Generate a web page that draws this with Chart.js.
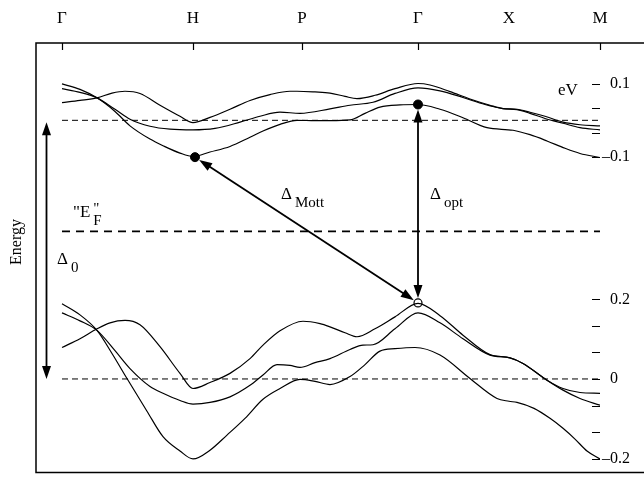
<!DOCTYPE html>
<html>
<head>
<meta charset="utf-8">
<script src="https://cdn.jsdelivr.net/npm/chart.js@4.4.1/dist/chart.umd.min.js"></script>
<style>
  html, body { margin: 0; padding: 0; background: #fff; }
  #wrap { width: 644px; height: 478px; }
</style>
</head>
<body>
<div id="wrap"><canvas id="bands"></canvas></div>
<script>
// symmetry points along the k path
const kLabels = ['Γ', 'H', 'P', 'Γ', 'X', 'M'];
const kPoints = [0, 1.31, 2.40, 3.56, 4.47, 5.38];

// right hand energy ticks (eV)
const upperTicks = [0.1, 0.0667, 0.0333, 0, -0.0333, -0.0667, -0.1];
const lowerTicks = [0.2, 0.1333, 0.0667, 0, -0.0667, -0.1333, -0.2];

// upper (empty) bands
const up1K = [0, 0.18, 0.35, 0.50, 0.63, 0.78, 0.98, 1.18, 1.31, 1.48, 1.68, 1.88, 2.08, 2.28, 2.35, 2.53, 2.68, 2.83, 2.95, 3.13, 3.33, 3.56, 3.68, 3.88, 4.08, 4.28, 4.41, 4.55, 4.68, 4.83, 5.01, 5.18, 5.38];
const up1E = [0.048, 0.054, 0.061, 0.074, 0.079, 0.073, 0.041, 0.011, -0.006, 0.008, 0.030, 0.054, 0.070, 0.079, 0.079, 0.077, 0.074, 0.065, 0.059, 0.068, 0.086, 0.100, 0.096, 0.078, 0.058, 0.041, 0.032, 0.030, 0.022, 0.011, -0.005, -0.012, -0.015];
const up2K = [0, 0.18, 0.35, 0.53, 0.68, 0.88, 1.08, 1.31, 1.53, 1.78, 1.98, 2.18, 2.38, 2.68, 2.88, 3.11, 3.33, 3.56, 3.78, 4.01, 4.23, 4.41, 4.55, 4.68, 4.83, 5.01, 5.18, 5.38];
const up2E = [0.086, 0.076, 0.061, 0.030, 0.003, -0.016, -0.024, -0.026, -0.022, -0.005, 0.011, 0.022, 0.019, 0.031, 0.041, 0.049, 0.073, 0.088, 0.080, 0.062, 0.043, 0.032, 0.029, 0.019, 0.005, -0.008, -0.020, -0.026];
const up3K = [0, 0.18, 0.35, 0.53, 0.68, 0.88, 1.01, 1.18, 1.31, 1.48, 1.68, 1.88, 2.01, 2.18, 2.35, 2.53, 2.68, 2.88, 3.03, 3.18, 3.38, 3.56, 3.78, 4.01, 4.25, 4.51, 4.68, 4.85, 5.03, 5.18, 5.38];
const up3E = [0.099, 0.084, 0.061, 0.024, -0.015, -0.051, -0.069, -0.089, -0.098, -0.086, -0.071, -0.046, -0.029, -0.011, 0.000, -0.001, -0.001, 0.001, 0.019, 0.036, 0.042, 0.043, 0.030, 0.007, -0.020, -0.027, -0.039, -0.056, -0.076, -0.090, -0.101];

// lower (filled) bands
const lo1K = [0, 0.18, 0.35, 0.48, 0.63, 0.78, 0.98, 1.18, 1.31, 1.48, 1.68, 1.88, 2.01, 2.18, 2.41, 2.58, 2.68, 2.83, 2.95, 3.13, 3.33, 3.56, 3.78, 4.01, 4.28, 4.48, 4.61, 4.85, 5.01, 5.18, 5.38];
const lo1E = [0.079, 0.101, 0.126, 0.141, 0.147, 0.136, 0.081, 0.014, -0.024, -0.009, 0.014, 0.051, 0.085, 0.121, 0.145, 0.139, 0.131, 0.116, 0.106, 0.126, 0.156, 0.190, 0.159, 0.110, 0.061, 0.053, 0.039, -0.003, -0.028, -0.049, -0.066];
const lo2K = [0, 0.18, 0.35, 0.53, 0.68, 0.88, 1.01, 1.18, 1.31, 1.48, 1.68, 1.88, 2.01, 2.15, 2.28, 2.38, 2.53, 2.68, 2.88, 3.01, 3.11, 3.33, 3.56, 3.78, 4.01, 4.28, 4.48, 4.61, 4.85, 5.01, 5.18, 5.38];
const lo2E = [0.166, 0.146, 0.122, 0.071, 0.026, -0.019, -0.036, -0.054, -0.063, -0.059, -0.045, -0.016, 0.010, 0.036, 0.034, 0.029, 0.041, 0.051, 0.074, 0.085, 0.086, 0.126, 0.166, 0.141, 0.101, 0.060, 0.053, 0.039, -0.003, -0.024, -0.034, -0.036];
const lo3K = [0, 0.18, 0.35, 0.50, 0.65, 0.85, 1.01, 1.18, 1.31, 1.48, 1.65, 1.83, 2.01, 2.18, 2.38, 2.53, 2.68, 2.88, 3.03, 3.18, 3.33, 3.53, 3.78, 4.08, 4.35, 4.47, 4.55, 4.72, 4.88, 5.01, 5.13, 5.25, 5.38];
const lo3E = [0.189, 0.161, 0.122, 0.064, 0.001, -0.081, -0.145, -0.181, -0.201, -0.179, -0.141, -0.099, -0.051, -0.024, -0.001, -0.006, -0.014, 0.006, 0.036, 0.070, 0.076, 0.079, 0.060, 0.001, -0.049, -0.056, -0.059, -0.074, -0.099, -0.124, -0.151, -0.181, -0.201];

// reference levels
const zeroLine = [0, 0];
const fermiLevel = [0.371, 0.371];
const lineK = [0, 5.38];

// band extrema marked in the figure
const cbMin = [{ x: 1.33, y: -0.1 }, { x: 3.56, y: 0.043 }];
const vbMax = [{ x: 3.56, y: 0.191 }];

// gaps drawn as arrows (each end on its own energy axis)
const gapArrows = [
  { from: { x: -0.155, y: -0.005, axis: 'yU', gap: 0 }, to: { x: -0.155, y: 0, axis: 'yL', gap: 0 } },
  { from: { x: 3.56, y: 0.043, axis: 'yU', gap: 5 }, to: { x: 3.56, y: 0.191, axis: 'yL', gap: 5 } },
  { from: { x: 1.33, y: -0.1, axis: 'yU', gap: 5 }, to: { x: 3.56, y: 0.191, axis: 'yL', gap: 5 } }
];

const serif = '"Liberation Serif", "Times New Roman", serif';

const pts = (ks, es) => ks.map((k, i) => ({ x: k, y: es[i] }));

const band = (ks, es, axis) => ({
  data: pts(ks, es), yAxisID: axis,
  borderColor: '#000', borderWidth: 1.2, pointRadius: 0,
  cubicInterpolationMode: 'monotone', fill: false
});

const dashed = (es, axis, width, dash) => ({
  data: pts(lineK, es), yAxisID: axis,
  borderColor: '#000', borderWidth: width, borderDash: dash, pointRadius: 0, fill: false
});

const tickText = v => {
  if (Math.abs(v * 10 - Math.round(v * 10)) > 1e-6) return '';
  if (Math.abs(v) < 1e-9) return '\u2007' + '0';
  return v < 0 ? '\u2013' + Math.abs(v).toFixed(1) : '\u2007' + v.toFixed(1);
};

const energyAxis = (ticks, min, max, weight) => ({
  type: 'linear', position: 'right', stack: 'energy', stackWeight: weight,
  min: min, max: max,
  afterBuildTicks: s => { s.ticks = ticks.map(v => ({ value: v })); },
  afterFit: s => { s.width = 44; s.paddingTop = 0; s.paddingBottom = 0; },
  grid: { display: false, drawTicks: false },
  border: { display: false },
  ticks: { padding: 2, color: '#000', font: { family: serif, size: 16 }, callback: tickText }
});

const frame = {
  id: 'frame',
  afterDraw(chart) {
    const { ctx, chartArea: a, scales } = chart;
    ctx.save();
    ctx.strokeStyle = '#000';
    ctx.lineWidth = 1.5;
    ctx.beginPath();
    ctx.moveTo(chart.width, a.top);
    ctx.lineTo(a.left, a.top);
    ctx.lineTo(a.left, a.bottom);
    ctx.lineTo(chart.width, a.bottom);
    ctx.stroke();

    // inward tick marks
    ctx.lineWidth = 1.2;
    ctx.beginPath();
    scales.x.ticks.forEach(t => {
      const px = Math.round(scales.x.getPixelForValue(t.value)) + 0.5;
      ctx.moveTo(px, a.top);
      ctx.lineTo(px, a.top + 7);
    });
    ['yU', 'yL'].forEach(id => {
      const s = scales[id];
      s.ticks.forEach(t => {
        const py = Math.round(s.getPixelForValue(t.value)) + 0.5;
        ctx.moveTo(a.right - 8, py);
        ctx.lineTo(a.right, py);
      });
    });
    ctx.stroke();

    // axis title
    ctx.fillStyle = '#000';
    ctx.font = '16px ' + serif;
    ctx.textAlign = 'center';
    ctx.textBaseline = 'middle';
    ctx.translate(17, 242);
    ctx.rotate(-Math.PI / 2);
    ctx.fillText('Energy', 0, 0);
    ctx.restore();
  }
};

const notes = [
  { text: 'Δ', sub: 'Mott', x: 2.19, y: -0.214, axis: 'yU' },
  { text: 'Δ', sub: 'opt', x: 3.68, y: -0.214, axis: 'yU' },
  { text: '"E', sub: 'F', sup: '"', x: 0.11, y: -0.262, axis: 'yU' },
  { text: 'Δ', sub: '0', x: -0.05, y: 0.289, axis: 'yL' },
  { text: 'eV', x: 4.96, y: 0.07, axis: 'yU' }
];

const arrowsAndNotes = {
  id: 'arrowsAndNotes',
  afterDatasetsDraw(chart) {
    const { ctx, scales } = chart;
    const at = p => [scales.x.getPixelForValue(p.x), scales[p.axis].getPixelForValue(p.y)];
    ctx.save();
    ctx.strokeStyle = '#000';
    ctx.fillStyle = '#000';
    ctx.lineWidth = 1.8;

    const head = (tx, ty, ux, uy) => {
      const L = 13, W = 4.5;
      const bx = tx - ux * L, by = ty - uy * L;
      ctx.beginPath();
      ctx.moveTo(tx, ty);
      ctx.lineTo(bx - uy * W, by + ux * W);
      ctx.lineTo(bx + uy * W, by - ux * W);
      ctx.closePath();
      ctx.fill();
    };

    gapArrows.forEach(a => {
      let [x1, y1] = at(a.from);
      let [x2, y2] = at(a.to);
      const d = Math.hypot(x2 - x1, y2 - y1);
      const ux = (x2 - x1) / d, uy = (y2 - y1) / d;
      x1 += ux * a.from.gap; y1 += uy * a.from.gap;
      x2 -= ux * a.to.gap; y2 -= uy * a.to.gap;
      ctx.beginPath();
      ctx.moveTo(x1 + ux * 8, y1 + uy * 8);
      ctx.lineTo(x2 - ux * 8, y2 - uy * 8);
      ctx.stroke();
      head(x2, y2, ux, uy);
      head(x1, y1, -ux, -uy);
    });

    ctx.textAlign = 'left';
    ctx.textBaseline = 'alphabetic';
    notes.forEach(n => {
      const [x, y] = at(n);
      ctx.font = '17px ' + serif;
      ctx.fillText(n.text, x, y);
      const w = ctx.measureText(n.text).width;
      if (n.sub) {
        ctx.font = '15px ' + serif;
        ctx.fillText(n.sub, x + w + 3, y + 8);
      }
      if (n.sup) {
        ctx.font = '15px ' + serif;
        ctx.fillText(n.sup, x + w + 3, y - 4);
      }
    });
    ctx.restore();
  }
};

new Chart(document.getElementById('bands'), {
  type: 'line',
  data: {
    datasets: [
      band(up1K, up1E, 'yU'),
      band(up2K, up2E, 'yU'),
      band(up3K, up3E, 'yU'),
      band(lo1K, lo1E, 'yL'),
      band(lo2K, lo2E, 'yL'),
      band(lo3K, lo3E, 'yL'),
      dashed(zeroLine, 'yU', 1, [6, 4]),
      dashed(zeroLine, 'yL', 1, [6, 4]),
      dashed(fermiLevel, 'yL', 1.8, [8, 6]),
      { data: cbMin, yAxisID: 'yU', showLine: false, pointRadius: 4.5, pointBackgroundColor: '#000', pointBorderColor: '#000' },
      { data: vbMax, yAxisID: 'yL', showLine: false, pointRadius: 4, pointBorderWidth: 1.2, pointBackgroundColor: '#fff', pointBorderColor: '#000' }
    ]
  },
  options: {
    responsive: true,
    maintainAspectRatio: false,
    animation: false,
    layout: { padding: { left: 36, right: 0, top: 0, bottom: 2 } },
    plugins: { legend: { display: false }, tooltip: { enabled: false } },
    scales: {
      x: {
        type: 'linear', position: 'top', min: -0.26, max: 5.38,
        afterBuildTicks: s => { s.ticks = kPoints.map(v => ({ value: v })); },
        afterFit: s => { s.height = 43; s.paddingLeft = 0; s.paddingRight = 0; },
        grid: { display: false, drawTicks: false },
        border: { display: false },
        ticks: { padding: 14, color: '#000', maxRotation: 0, autoSkip: false,
                 font: { family: serif, size: 17 }, callback: (v, i) => kLabels[i] }
      },
      yU: energyAxis(upperTicks, -0.27, 0.21, 177.6),
      yL: energyAxis(lowerTicks, -0.235, 0.4, 254)
    }
  },
  plugins: [frame, arrowsAndNotes]
});
</script>
</body>
</html>
